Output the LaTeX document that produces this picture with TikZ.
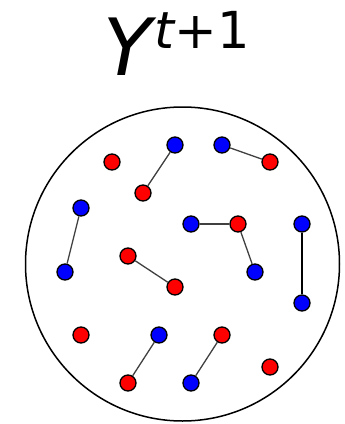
\documentclass[tikz,border=0pt]{standalone}
\usepackage{fontspec}
\newfontfamily\ttlfont{DejaVu Sans}
\begin{document}
\begin{tikzpicture}[x=1pt,y=-1pt,
  dot/.style={circle,draw=black,line width=1.3pt,minimum size=16pt,inner sep=0pt},
  rd/.style={dot,fill=red},
  bl/.style={dot,fill=blue},
  lnk/.style={line width=1.3pt,draw=black!75},
  lnkb/.style={line width=1.6pt,draw=black},
  ttl/.style={inner sep=0pt,font=\ttlfont}]
\useasboundingbox (0,0) rectangle (345,424);
\node[ttl,anchor=base west] (title) at (103,75) {\fontsize{79}{79}\selectfont\itshape Y\hspace{3pt}\raisebox{27pt}{\fontsize{51}{51}\selectfont t\upshape +1}};
\node[circle,draw=black,line width=1.5pt,minimum size=314pt,inner sep=0pt] (set) at (182.5,264) {};
\node[rd] (r1) at (112,162) {};
\node[bl] (b1) at (175,145) {};
\node[bl] (b2) at (222,145) {};
\node[rd] (r2) at (270,162) {};
\node[rd] (r3) at (143,193) {};
\node[bl] (b3) at (81,208) {};
\node[bl] (b4) at (191,224) {};
\node[rd] (r4) at (238,224) {};
\node[bl] (b5) at (302,224) {};
\node[rd] (r5) at (128,256) {};
\node[bl] (b6) at (65,272) {};
\node[bl] (b7) at (255,272) {};
\node[rd] (r6) at (175,287) {};
\node[bl] (b8) at (302,303) {};
\node[rd] (r7) at (81,335) {};
\node[bl] (b9) at (159,335) {};
\node[rd] (r8) at (222,335) {};
\node[rd] (r9) at (270,367) {};
\node[rd] (r10) at (128,383) {};
\node[bl] (b10) at (191,383) {};
\draw[lnk] (b1) -- (r3);
\draw[lnk] (b2) -- (r2);
\draw[lnk] (b3) -- (b6);
\draw[lnk] (b4) -- (r4);
\draw[lnk] (r4) -- (b7);
\draw[lnkb] (b5) -- (b8);
\draw[lnk] (r5) -- (r6);
\draw[lnk] (b9) -- (r10);
\draw[lnk] (r8) -- (b10);
\end{tikzpicture}
\end{document}
